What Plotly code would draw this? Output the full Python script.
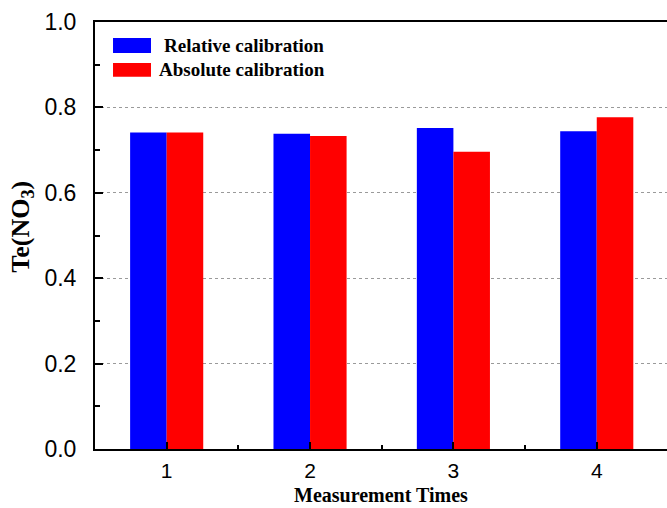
import plotly.graph_objects as go

categories = [1, 2, 3, 4]
relative = [0.741, 0.738, 0.752, 0.744]
absolute = [0.741, 0.733, 0.696, 0.777]
series_names = ["Relative calibration", "Absolute calibration"]
y_ticks = [0.0, 0.2, 0.4, 0.6, 0.8, 1.0]
y_ticklabels = ["0.0", "0.2", "0.4", "0.6", "0.8", "1.0"]

BLUE = "#0000FF"
RED = "#FF0000"
SERIF = "Liberation Serif, Times New Roman, serif"
SANS = "Liberation Sans, Arial, sans-serif"

fig = go.Figure()
fig.add_trace(go.Bar(x=categories, y=relative, name=series_names[0],
                     marker=dict(color=BLUE, line=dict(width=0))))
fig.add_trace(go.Bar(x=categories, y=absolute, name=series_names[1],
                     marker=dict(color=RED, line=dict(width=0))))

fig.update_layout(
    width=667, height=508,
    margin=dict(l=95, r=0, t=22, b=59),
    plot_bgcolor="white", paper_bgcolor="white",
    barmode="group", bargap=0.49, bargroupgap=0,
    showlegend=False,
)

fig.update_xaxes(
    range=[0.5, 4.49],
    tickvals=categories, ticktext=[str(c) for c in categories],
    ticks="inside", ticklen=7, tickwidth=2, tickcolor="black",
    minor=dict(dtick=0.5, tick0=0.5, ticks="inside", ticklen=4, tickwidth=2, tickcolor="black", showgrid=False),
    showline=True, linecolor="black", linewidth=2, mirror=True,
    showgrid=False, zeroline=False,
    tickfont=dict(family=SANS, size=21, color="black"),
    ticklabelstandoff=2,
)
fig.update_yaxes(
    range=[0, 1.0],
    tickvals=y_ticks, ticktext=y_ticklabels,
    ticks="inside", ticklen=8, tickwidth=2, tickcolor="black",
    minor=dict(dtick=0.1, tick0=0, ticks="inside", ticklen=5, tickwidth=2, tickcolor="black", showgrid=False),
    showline=True, linecolor="black", linewidth=2, mirror=False,
    showgrid=True, gridcolor="#9a9a9a", gridwidth=1, griddash="3px,3px",
    zeroline=False,
    tickfont=dict(family=SANS, size=23, color="black"),
    ticklabelstandoff=12,
)

# axis titles
fig.add_annotation(xref="paper", yref="paper", x=-0.128, y=0.52,
                   text="<b>Te(NO<sub>3</sub>)</b>", textangle=-90, showarrow=False,
                   xanchor="center", yanchor="middle",
                   font=dict(family=SERIF, size=26, color="black"))
fig.add_annotation(xref="paper", yref="paper", x=0.5, y=-0.138,
                   text="<b>Measurement Times</b>", showarrow=False,
                   xanchor="center", yanchor="bottom",
                   font=dict(family=SERIF, size=20, color="black"))

# legend (swatches + labels)
fig.add_shape(type="rect", xref="paper", yref="paper", x0=0.0315, x1=0.0979, y0=0.9274, y1=0.9625,
              fillcolor=BLUE, line=dict(width=0))
fig.add_shape(type="rect", xref="paper", yref="paper", x0=0.0315, x1=0.0979, y0=0.8716, y1=0.904,
              fillcolor=RED, line=dict(width=0))
fig.add_annotation(xref="paper", yref="paper", x=0.117, y=0.945, text="<b>" + series_names[0] + "</b>",
                   showarrow=False, xanchor="left", yanchor="middle",
                   font=dict(family=SERIF, size=19, color="black"))
fig.add_annotation(xref="paper", yref="paper", x=0.1084, y=0.8876, text="<b>" + series_names[1] + "</b>",
                   showarrow=False, xanchor="left", yanchor="middle",
                   font=dict(family=SERIF, size=19, color="black"))

fig.write_html("out.html")
